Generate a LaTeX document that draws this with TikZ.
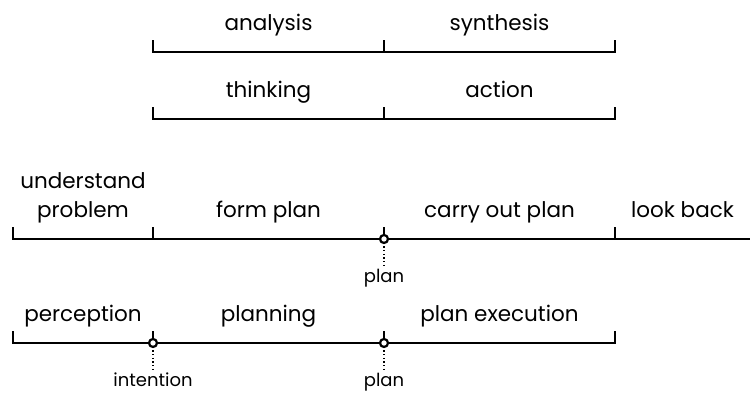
\documentclass[tikz,border=0pt]{standalone}
\usepackage{fontspec}
\setmainfont{Poppins}
\usetikzlibrary{calc}

\tikzset{
	bar/.style={line width=2.3pt, line cap=rect},
	leader/.style={line width=1.3pt, dash pattern=on 1.3pt off 2.4pt},
	hole/.style={circle, draw, line width=2.2pt, fill=white, inner sep=0pt, minimum size=8pt},
	phase/.style={anchor=base, yshift=21pt, align=center, font=\fontsize{21.5}{29}\selectfont},
	tag/.style={anchor=base, font=\fontsize{18}{21}\selectfont}
}

\begin{document}
\begin{tikzpicture}[x=1pt,y=1pt]
		\useasboundingbox (0,0) rectangle (750,395);

		% Analysis / synthesis
		\coordinate (an0) at (153,343);
		\coordinate (an1) at (384,343);
		\coordinate (an2) at (615,343);

		% Thinking / action
		\coordinate (th0) at (153,276);
		\coordinate (th1) at (384,276);
		\coordinate (th2) at (615,276);

		% Polya steps
		\coordinate (po0) at (13,156);
		\coordinate (po1) at (153,156);
		\coordinate (po2) at (384,156);
		\coordinate (po3) at (615,156);
		\coordinate (po4) at (750,156);

		% Action phases
		\coordinate (ac0) at (13,52);
		\coordinate (ac1) at (153,52);
		\coordinate (ac2) at (384,52);
		\coordinate (ac3) at (615,52);

		% Ticks
		\foreach \pt in {an0,an1,an2,th0,th1,th2,po0,po1,po2,po3,ac0,ac1,ac2,ac3}
		\draw[bar] (\pt) -- ++(0,11);

		% Scales
		\draw[bar] (an0) -- (an2);
		\draw[bar] (th0) -- (th2);
		\draw[bar] (po0) -- (po4);
		\draw[bar] (ac0) -- (ac3);

		% Transition points
		\foreach \pt/\txt in {po2/plan, ac1/intention, ac2/plan} {
			\coordinate (\pt-end) at ($(\pt)+(0,-29)$);
			\draw[leader] (\pt) -- (\pt-end);
			\node[hole] (\pt-o) at (\pt) {};
			\node[tag] (\pt-t) at ($(\pt)+(0,-44)$) {\txt};
		}

		% Phase labels
		\node[phase] (analysis) at ($(an0)!.5!(an1)$) {analysis};
		\node[phase] (synthesis) at ($(an1)!.5!(an2)$) {synthesis};
		\node[phase] (thinking) at ($(th0)!.5!(th1)$) {thinking};
		\node[phase] (action) at ($(th1)!.5!(th2)$) {action};
		\node[phase] (understand) at ($(po0)!.5!(po1)$) {understand\\problem};
		\node[phase] (form) at ($(po1)!.5!(po2)$) {form plan};
		\node[phase] (carry) at ($(po2)!.5!(po3)$) {carry out plan};
		\node[phase] (look) at ($(po3)!.5!(po4)$) {look back};
		\node[phase] (perception) at ($(ac0)!.5!(ac1)$) {perception};
		\node[phase] (planning) at ($(ac1)!.5!(ac2)$) {planning};
		\node[phase] (execution) at ($(ac2)!.5!(ac3)$) {plan execution};
	\end{tikzpicture}
\end{document}
